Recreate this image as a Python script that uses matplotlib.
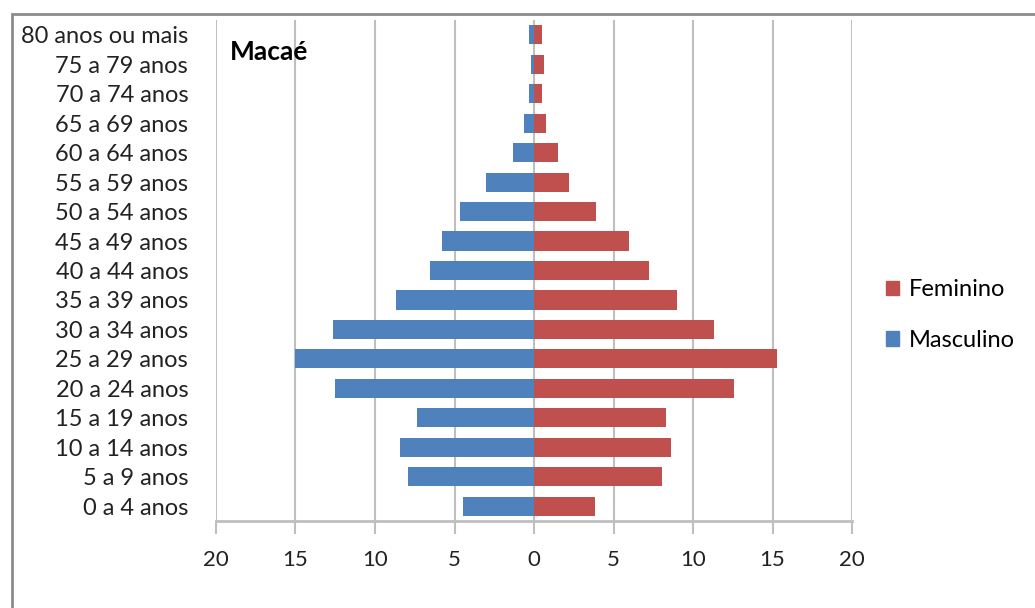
import matplotlib
matplotlib.use("Agg")
from matplotlib import pyplot as plt
from matplotlib.patches import Rectangle, Patch

# Age groups, from the youngest to the oldest
faixas = ['0 a 4 anos', '5 a 9 anos', '10 a 14 anos', '15 a 19 anos',
          '20 a 24 anos', '25 a 29 anos', '30 a 34 anos', '35 a 39 anos',
          '40 a 44 anos', '45 a 49 anos', '50 a 54 anos', '55 a 59 anos',
          '60 a 64 anos', '65 a 69 anos', '70 a 74 anos', '75 a 79 anos',
          '80 anos ou mais']

# Percent of the population
masculino = [4.47, 7.95, 8.44, 7.37, 12.5, 15.0, 12.64, 8.67,
             6.57, 5.77, 4.66, 3.04, 1.34, 0.63, 0.3, 0.2, 0.3]
feminino = [3.84, 8.06, 8.61, 8.29, 12.55, 15.28, 11.33, 8.98,
            7.22, 6.0, 3.9, 2.22, 1.49, 0.76, 0.5, 0.63, 0.5]

ticks = [-20, -15, -10, -5, 0, 5, 10, 15, 20]

azul = '#4F81BD'
vermelho = '#C0504D'
cinza = '#BFBFBF'

plt.rcParams['font.family'] = ['Lato', 'DejaVu Sans']

fig = plt.figure(figsize=(10.35, 6.08), dpi=100)
fig.patches.append(Rectangle((12 / 1035, -0.1), 1.1, 1 - 14 / 608 + 0.1,
                             transform=fig.transFigure, fill=False,
                             edgecolor='#8C8C8C', linewidth=2))

ax = fig.add_axes([216 / 1035, 1 - 521 / 608, 636 / 1035, 501 / 608])

y = range(len(faixas))
ax.barh(y, [-v for v in masculino], height=0.65, color=azul, label='Masculino', zorder=3)
ax.barh(y, feminino, height=0.65, color=vermelho, label='Feminino', zorder=3)

ax.set_xlim(-20, 20)
ax.set_ylim(-0.5, len(faixas) - 0.5)
ax.set_xticks(ticks)
ax.set_xticklabels([str(abs(t)) for t in ticks], fontsize=16, color='#222222')
ax.set_yticks(list(y))
ax.set_yticklabels(faixas, fontsize=17, color='#222222')

ax.grid(axis='x', color=cinza, linewidth=1.5, zorder=0)
for lado in ['left', 'right', 'top']:
    ax.spines[lado].set_visible(False)
ax.spines['bottom'].set_color(cinza)
ax.spines['bottom'].set_linewidth(2)
ax.tick_params(axis='x', length=9, width=1.5, color=cinza, pad=12)
ax.tick_params(axis='y', length=0, pad=20)

ax.text(230 / 1035, 1 - 52 / 608, 'Macaé', transform=fig.transFigure,
        fontsize=19, fontweight='bold', va='center', ha='left')

handles = [Patch(color=vermelho, label='Feminino'), Patch(color=azul, label='Masculino')]
fig.legend(handles=handles, loc='center left', bbox_to_anchor=(886 / 1035, 1 - 315 / 608),
           frameon=False, fontsize=17, handlelength=0.55, handleheight=0.55,
           handletextpad=0.4, labelspacing=1.25, borderpad=0, borderaxespad=0)

plt.savefig('out.png', dpi=100)
